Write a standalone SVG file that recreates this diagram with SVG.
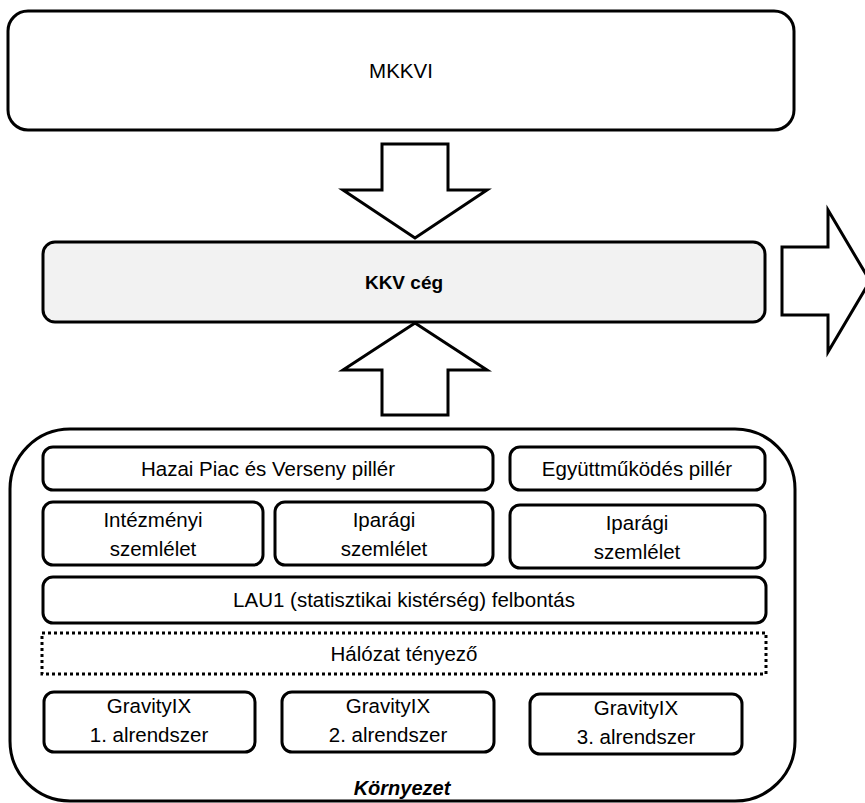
<svg xmlns="http://www.w3.org/2000/svg" width="865" height="803" viewBox="0 0 865 803">
<style>
  .box { fill: #ffffff; stroke: #000000; stroke-width: 3; }
  .kkv { fill: #f2f2f2; stroke: #000000; stroke-width: 3; }
  .dot { fill: #ffffff; stroke: #000000; stroke-width: 3; stroke-dasharray: 3 3; }
  .arrow { fill: #ffffff; stroke: #000000; stroke-width: 3; stroke-linejoin: miter; }
  .t { font-family: "Liberation Sans", Arial, sans-serif; font-size: 20.5px; fill: #000000; text-anchor: middle; }
  .b { font-weight: bold; font-size: 19px; }
  .bi { font-weight: bold; font-style: italic; font-size: 20px; }
</style>
<rect width="865" height="803" fill="#ffffff"/>

<g id="mkkvi">
  <rect class="box" x="8" y="11" width="786" height="119" rx="20" ry="20"/>
  <text class="t" x="401" y="78">MKKVI</text>
</g>

<g id="kkv-ceg">
  <rect class="kkv" x="43" y="242" width="722" height="80" rx="12" ry="12"/>
  <text class="t b" x="404" y="289">KKV cég</text>
</g>

<g id="connectors">
  <polygon class="arrow" points="382,144 448,144 448,190 487,190 415,238 343,190 382,190"/>
  <polygon class="arrow" points="415,323 487,370 448,370 448,415 382,415 382,370 343,370"/>
  <polygon class="arrow" points="782,247 828,247 828,210 870,281 828,352 828,315 782,315"/>
</g>

<g id="kornyezet">
  <rect class="box" x="10" y="429" width="785" height="372" rx="60" ry="60"/>
  <text class="t bi" x="402" y="795">Környezet</text>
</g>

<g id="hazai-piac">
  <rect class="box" x="43" y="447" width="450" height="43" rx="10" ry="10"/>
  <text class="t" x="268" y="476">Hazai Piac és Verseny pillér</text>
</g>

<g id="egyuttmukodes">
  <rect class="box" x="510" y="447" width="255" height="43" rx="10" ry="10"/>
  <text class="t" x="637" y="476">Együttműködés pillér</text>
</g>

<g id="intezmenyi">
  <rect class="box" x="43" y="502" width="220" height="63" rx="10" ry="10"/>
  <text class="t" x="153" y="527">Intézményi</text>
  <text class="t" x="153" y="556">szemlélet</text>
</g>

<g id="iparagi-1">
  <rect class="box" x="275" y="502" width="218" height="63" rx="10" ry="10"/>
  <text class="t" x="384" y="527">Iparági</text>
  <text class="t" x="384" y="556">szemlélet</text>
</g>

<g id="iparagi-2">
  <rect class="box" x="510" y="505" width="255" height="63" rx="10" ry="10"/>
  <text class="t" x="637" y="530">Iparági</text>
  <text class="t" x="637" y="559">szemlélet</text>
</g>

<g id="lau1">
  <rect class="box" x="43" y="577" width="723" height="46" rx="10" ry="10"/>
  <text class="t" x="404" y="607">LAU1 (statisztikai kistérség) felbontás</text>
</g>

<g id="halozat">
  <rect class="dot" x="42" y="633" width="724" height="41"/>
  <text class="t" x="404" y="661">Hálózat tényező</text>
</g>

<g id="gravity-1">
  <rect class="box" x="44" y="692" width="211" height="60" rx="10" ry="10"/>
  <text class="t" x="149" y="713">GravityIX</text>
  <text class="t" x="149" y="742">1. alrendszer</text>
</g>

<g id="gravity-2">
  <rect class="box" x="282" y="692" width="212" height="60" rx="10" ry="10"/>
  <text class="t" x="388" y="713">GravityIX</text>
  <text class="t" x="388" y="742">2. alrendszer</text>
</g>

<g id="gravity-3">
  <rect class="box" x="530" y="694" width="212" height="60" rx="10" ry="10"/>
  <text class="t" x="636" y="715">GravityIX</text>
  <text class="t" x="636" y="744">3. alrendszer</text>
</g>
</svg>
